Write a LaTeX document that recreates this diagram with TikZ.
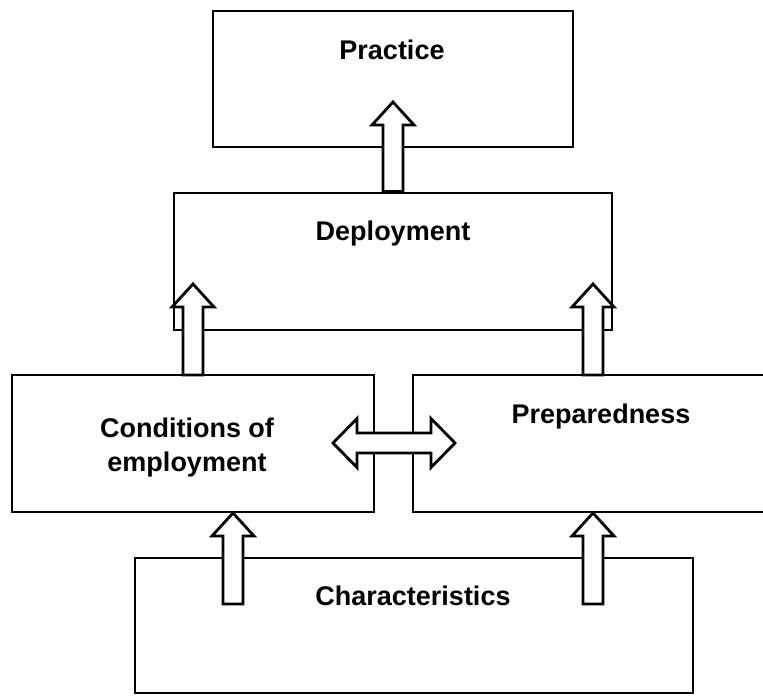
\documentclass[tikz,border=0pt]{standalone}
\usepackage{fontspec}
\setmainfont{Liberation Sans}
\usetikzlibrary{calc}
\tikzset{
  box/.style={draw, line width=2.8pt, minimum height=137pt, inner sep=0pt, fill=white},
  lbl/.style={anchor=base, inner sep=0pt, font=\fontsize{27}{34}\selectfont\bfseries},
  blk/.style={draw, fill=white, line width=2.8pt, line join=miter}
}
\newcommand\UpBlock[2]{%
  \draw[blk] let \p1=(#1), \p2=(#2) in
  (\x1-10pt,\y1) -- (\x1-10pt,\y2-23pt) -- (\x1-21pt,\y2-23pt) -- (\x1,\y2)
  -- (\x1+21pt,\y2-23pt) -- (\x1+10pt,\y2-23pt) -- (\x1+10pt,\y1) -- cycle;}
\begin{document}
\begin{tikzpicture}[x=1pt,y=-1pt]
\useasboundingbox (0,0) rectangle (763,697);
% boxes
\node[box, minimum width=360pt, minimum height=136pt] (prac) at (393,79) {};
\node[box, minimum width=438pt] (dep) at (393,261.5) {};
\node[box, minimum width=362pt] (cond) at (193,443.5) {};
\node[box, minimum width=367pt] (prep) at (596.5,443.5) {};
\node[box, minimum width=558pt, minimum height=135pt] (char) at (414,625.5) {};
% labels
\node[lbl] (lprac) at (392,59) {Practice};
\node[lbl] (ldep) at (393,240) {Deployment};
\node[lbl] (lcond1) at (187,437) {Conditions of};
\node[lbl] (lcond2) at (187,471) {employment};
\node[lbl] (lprep) at (601,423) {Preparedness};
\node[lbl] (lchar) at (413,605) {Characteristics};
% arrow coordinates
\coordinate (b0) at (dep.north);
\coordinate (t0) at (393,102);
\coordinate (b1) at (193,375);
\coordinate (t1) at (193,284);
\coordinate (b2) at (593,375);
\coordinate (t2) at (593,284);
\coordinate (b3) at (233,604);
\coordinate (t3) at (233,513);
\coordinate (b4) at (593,604);
\coordinate (t4) at (593,513);
\coordinate (dl) at (333,443);
\coordinate (dr) at (455,443);
% block arrows
\UpBlock{b0}{t0}
\UpBlock{b1}{t1}
\UpBlock{b2}{t2}
\UpBlock{b3}{t3}
\UpBlock{b4}{t4}
\draw[blk] let \p1=(dl), \p2=(dr) in
  (\x1,\y1) -- (\x1+24pt,\y1+24.5pt) -- (\x1+24pt,\y1+10pt) -- (\x2-24pt,\y1+10pt)
  -- (\x2-24pt,\y1+24.5pt) -- (\x2,\y1) -- (\x2-24pt,\y1-24.5pt) -- (\x2-24pt,\y1-10pt)
  -- (\x1+24pt,\y1-10pt) -- (\x1+24pt,\y1-24.5pt) -- cycle;
\end{tikzpicture}
\end{document}
